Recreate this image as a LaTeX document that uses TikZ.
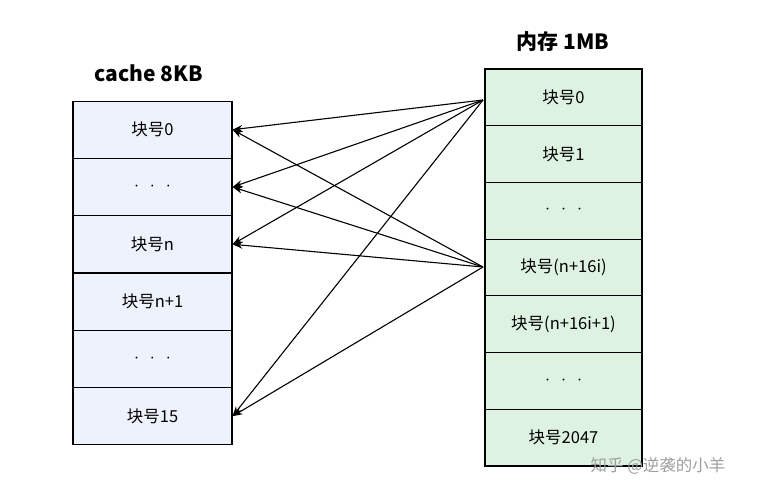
\documentclass[tikz,border=0pt]{standalone}
\usepackage{fontspec}
\setmainfont{Noto Sans CJK SC}
\usetikzlibrary{arrows.meta}
\definecolor{lblue}{HTML}{EEF2FC}
\definecolor{lgreen}{HTML}{DDF2E1}
\newcommand{\mydots}{{\fontsize{9}{9}\selectfont •\hspace{7pt}•\hspace{7pt}•}}
\begin{document}
\begin{tikzpicture}[x=1pt,y=-1pt,
  cell/.style={draw=black,line width=1.1pt,minimum width=#1,minimum height=57pt,inner sep=0pt,font=\fontsize{16.5}{16.5}\selectfont},
  lcell/.style={cell=159pt,fill=lblue},
  rcell/.style={cell=157pt,fill=lgreen,minimum height=56.7pt},
  arr/.style={-{Stealth[length=10pt,width=7pt]},line width=1.1pt},
  title/.style={font=\fontsize{21}{21}\selectfont\bfseries}]
\useasboundingbox (0,0) rectangle (781,500);
\foreach \t [count=\i from 0] in {块号0,\mydots,块号n,块号n+1,\mydots,块号15}
  \node[lcell] (l\i) at (152.5,{129.7+57.3*\i}) {\t};
\foreach \t [count=\i from 0] in {块号0,块号1,\mydots,块号(n+16i),块号(n+16i+1),\mydots,块号2047}
  \node[rcell] (r\i) at (563.5,{97.4+56.7*\i}) {\t};
\node[title] (tl) at (149,73) {cache 8KB};
\node[title] (tr) at (563,42) {内存 1MB};
\coordinate (s0) at (483,100);
\coordinate (s1) at (483,267);
\foreach \s in {s0,s1}
  \foreach \d in {0,1,2,5}
    \draw[arr] (\s) -- (l\d.east);
\node[font=\fontsize{16.5}{16.5}\selectfont,text=gray!75] (wm) at (658,466) {知乎 @逆袭的小羊};
\end{tikzpicture}
\end{document}
